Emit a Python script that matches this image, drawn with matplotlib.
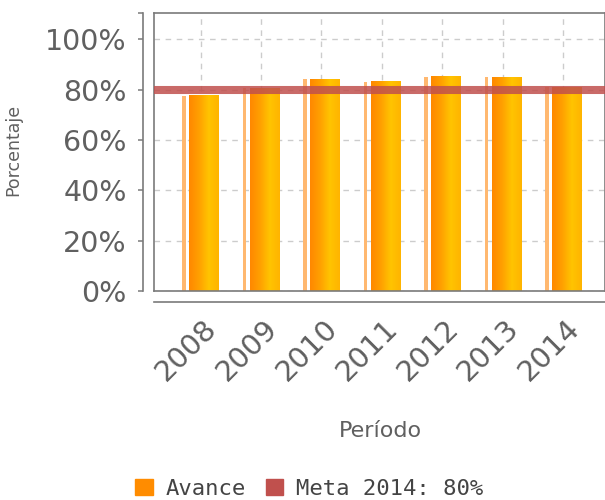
import numpy as np
import matplotlib.pyplot as plt
from matplotlib.colors import LinearSegmentedColormap
from matplotlib.patches import Patch
from matplotlib.transforms import ScaledTranslation

# datos
periodos = ["2008", "2009", "2010", "2011", "2012", "2013", "2014"]
avance = [77.7, 80.5, 84.2, 83.2, 85.2, 85.0, 81.0]
meta = 80
y_ticks = [0, 20, 40, 60, 80, 100]

naranja = "#FF8C00"
rojo = "#C0504D"
gris = "#7a7a7a"
texto = "#606060"

fig = plt.figure(figsize=(6.05, 5), dpi=100)
ax = fig.add_axes([154 / 605, 1 - 291 / 500, 451 / 605, 278 / 500])
x = np.arange(len(periodos))

# barras con degradado
grad = LinearSegmentedColormap.from_list("naranja", ["#FF8800", "#FFA000", "#FFC400", "#FFB400"])
gradient = np.linspace(0, 1, 64).reshape(1, -1)

ax.bar(x - 0.27, avance, width=0.06, color="#FFB870", zorder=2)
barras = ax.bar(x + 0.058, avance, width=0.49, color="none", zorder=2)
for rect in barras:
    x0, w, h = rect.get_x(), rect.get_width(), rect.get_height()
    ax.imshow(gradient, cmap=grad, aspect="auto", extent=(x0, x0 + w, 0, h), zorder=2)

ax.axhline(meta, color=rojo, lw=5.8, alpha=0.85, zorder=3)

ax.set_xlim(-0.77, 6.69)
ax.set_ylim(0, 110.5)

# rejilla
ax.set_axisbelow(True)
ax.grid(True, color="#cccccc", linestyle=(0, (4, 4)), lw=1)

# ejes
for s in ["left", "bottom"]:
    ax.spines[s].set_position(("outward", 7.9))
for s in ax.spines.values():
    s.set_color(gris)
    s.set_linewidth(1.2)
ax.plot([0, 1], [0, 0], transform=ax.transAxes, color=gris, lw=1.2, clip_on=False)
ax.plot([0, 0], [0, 1], transform=ax.transAxes, color=gris, lw=1.2, clip_on=False)

ax.set_yticks(y_ticks, [f"{v}%" for v in y_ticks])
ax.set_yticks([110.5], minor=True)
ax.tick_params(axis="y", which="both", length=3.6, width=1.1, color=gris,
               labelsize=20.5, labelcolor=texto, pad=8)
ax.set_xticks(x, periodos, rotation=45, ha="right", va="top", rotation_mode="anchor")
ax.tick_params(axis="x", length=0, labelsize=21, labelcolor=texto, pad=0)
offset = ScaledTranslation(2 / 100, -12 / 100, fig.dpi_scale_trans)
for lab in ax.get_xticklabels():
    lab.set_transform(lab.get_transform() + offset)

ax.set_ylabel("Porcentaje", fontsize=12.5, color=texto)
ax.yaxis.set_label_coords((22 - 154) / 451, 0.507)
ax.set_xlabel("Período", fontsize=16, color=texto)
ax.xaxis.set_label_coords(0.503, (291 - 421) / 278)

handles = [Patch(color=naranja, label="Avance"), Patch(color=rojo, label="Meta 2014: 80%")]
fig.legend(handles=handles, ncol=2, loc="center", bbox_to_anchor=(309 / 605, 1 - 489 / 500),
           frameon=False, handlelength=0.8, handleheight=0.75, handletextpad=0.55,
           columnspacing=0.9, prop={"family": "DejaVu Sans Mono", "size": 16},
           labelcolor="#444444")

fig.savefig("out.png", dpi=100)
